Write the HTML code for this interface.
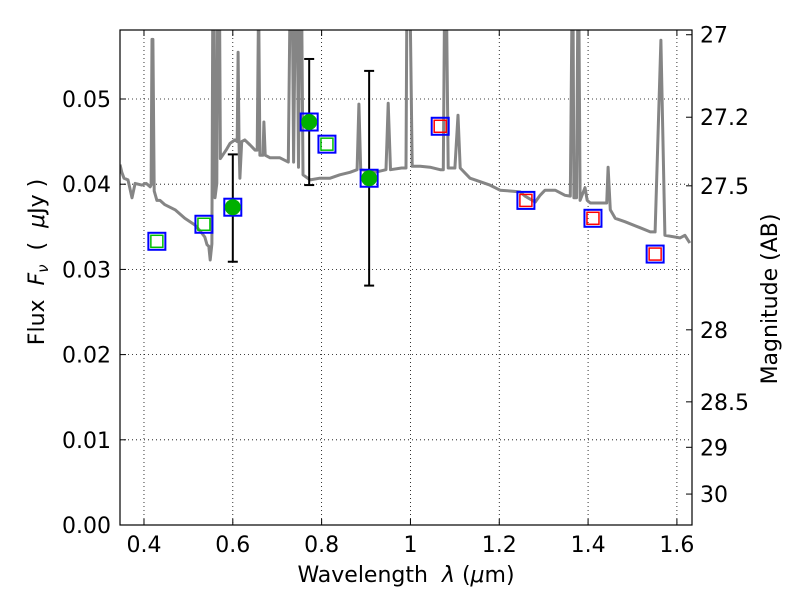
<!DOCTYPE html>
<html><head><meta charset="utf-8"><style>
html,body{margin:0;padding:0;background:#fff;}
svg{display:block;font-family:"DejaVu Sans","Liberation Sans",sans-serif;}
</style></head><body>
<svg id="chart" width="800" height="600" xmlns="http://www.w3.org/2000/svg"></svg>
<script>
const xTicks=[0.4,0.6,0.8,1.0,1.2,1.4,1.6];
const xTickLabels=["0.4","0.6","0.8","1","1.2","1.4","1.6"];
const yTicks=[0,0.01,0.02,0.03,0.04,0.05];
const yTickLabels=["0.00","0.01","0.02","0.03","0.04","0.05"];
const magTicks=[27,27.2,27.4,28,28.5,29,30];
const magTickLabels=["27","27.2","27.5","28","28.5","29","30"];
const specWave=[0.346,0.350,0.355,0.364,0.373,0.380,0.395,0.405,0.414,0.416,0.418,0.420,0.423,0.429,0.436,0.447,0.470,0.492,0.515,0.525,0.537,0.542,0.546,0.549,0.553,0.555,0.558,0.560,0.564,0.566,0.570,0.572,0.585,0.594,0.605,0.610,0.612,0.614,0.616,0.620,0.627,0.639,0.650,0.655,0.658,0.661,0.668,0.670,0.673,0.684,0.706,0.725,0.729,0.734,0.737,0.741,0.745,0.748,0.751,0.755,0.758,0.774,0.796,0.819,0.841,0.864,0.880,0.884,0.888,0.920,0.945,0.950,0.955,0.980,0.990,0.992,0.999,1.004,1.022,1.044,1.067,1.074,1.077,1.081,1.085,1.100,1.107,1.112,1.134,1.157,1.179,1.202,1.224,1.247,1.258,1.281,1.292,1.303,1.326,1.348,1.360,1.364,1.366,1.368,1.374,1.377,1.379,1.382,1.393,1.398,1.405,1.427,1.442,1.445,1.450,1.461,1.483,1.517,1.540,1.551,1.564,1.573,1.607,1.618,1.629];
const specFlux=[0.0423,0.0414,0.0407,0.0405,0.0384,0.0401,0.0399,0.0401,0.0397,0.0399,0.0570,0.0570,0.0392,0.0381,0.0381,0.0376,0.0370,0.0360,0.0352,0.0346,0.0338,0.0329,0.0327,0.0311,0.0330,0.062,0.062,0.0384,0.0401,0.062,0.062,0.0430,0.0440,0.0448,0.0452,0.0450,0.0555,0.0450,0.0407,0.0450,0.0452,0.0446,0.0440,0.0440,0.062,0.0434,0.0434,0.0473,0.0434,0.0431,0.0431,0.0426,0.062,0.062,0.0426,0.062,0.062,0.0420,0.062,0.062,0.0411,0.0405,0.0407,0.0407,0.0411,0.0414,0.0417,0.0494,0.0417,0.0414,0.0417,0.0495,0.0417,0.0419,0.0419,0.062,0.062,0.0421,0.0421,0.0420,0.0417,0.0417,0.062,0.062,0.0419,0.0419,0.0481,0.0419,0.0407,0.0403,0.0399,0.0393,0.0392,0.0391,0.0386,0.0379,0.0387,0.0393,0.0393,0.0387,0.0386,0.062,0.062,0.0384,0.0384,0.062,0.062,0.0381,0.0396,0.0381,0.0378,0.0378,0.0378,0.0420,0.0370,0.0360,0.0356,0.0349,0.0344,0.0344,0.0569,0.0340,0.0337,0.0340,0.0331];
const greenSqWave=[0.429,0.535,0.812];
const greenSqFlux=[0.0333,0.0353,0.0447];
const dotWave=[0.600,0.772,0.907];
const dotFlux=[0.0373,0.0473,0.0407];
const dotErrLo=[0.0309,0.0399,0.0281];
const dotErrHi=[0.0435,0.0547,0.0533];
const redSqWave=[1.067,1.260,1.411,1.551];
const redSqFlux=[0.0468,0.0381,0.0360,0.0318];

const L=120,R=692,T=30,B=525,XMIN=0.346,XMAX=1.634,YMIN=0,YMAX=0.0581;
const sx=v=>L+(v-XMIN)/(XMAX-XMIN)*(R-L);
const sy=v=>B-(v-YMIN)/(YMAX-YMIN)*(B-T);
const magToFlux=m=>Math.pow(10,(23.9-m)/2.5);
const svg=document.getElementById('chart');
const NS='http://www.w3.org/2000/svg';
function mk(tag,attrs,parent){const e=document.createElementNS(NS,tag);for(const k in attrs)e.setAttribute(k,attrs[k]);(parent||svg).appendChild(e);return e;}

const defs=mk('defs',{});const cp=mk('clipPath',{id:'clip'},defs);mk('rect',{x:L,y:T,width:R-L,height:B-T},cp);
const FS=22;
xTicks.forEach((v,i)=>{
  const g=mk('line',{x1:sx(v),x2:sx(v),y1:T,y2:B,stroke:'#000','stroke-width':0.8,'stroke-dasharray':'1,3'});
  
  
  mk('line',{x1:sx(v),x2:sx(v),y1:B,y2:B-6,stroke:'#000'});
  mk('line',{x1:sx(v),x2:sx(v),y1:T,y2:T+6,stroke:'#000'});
  const t=mk('text',{x:sx(v),y:B+27,'text-anchor':'middle','font-size':FS});
  t.textContent=xTickLabels[i];
  
  
});
yTicks.forEach((v,i)=>{
  const g=mk('line',{x1:L,x2:R,y1:sy(v),y2:sy(v),stroke:'#000','stroke-width':0.8,'stroke-dasharray':'1,3'});
  
  
  mk('line',{x1:L,x2:L+6,y1:sy(v),y2:sy(v),stroke:'#000'});
  const t=mk('text',{x:L-9,y:sy(v)+8,'text-anchor':'end','font-size':FS});
  t.textContent=yTickLabels[i];
  
  
});
magTicks.forEach((m,i)=>{
  const y=sy(magToFlux(m));
  mk('line',{x1:R,x2:R-6,y1:y,y2:y,stroke:'#000'});
  const t=mk('text',{x:R+8,y:y+8,'text-anchor':'start','font-size':FS});
  t.textContent=magTickLabels[i];
  
  
});

const pts=specWave.map((w,i)=>sx(w).toFixed(1)+','+sy(specFlux[i]).toFixed(1)).join(' ');
const sp=mk('polyline',{points:pts,fill:'none',stroke:'#858585','stroke-width':3,'stroke-linejoin':'round','clip-path':'url(#clip)'});



dotWave.forEach((w,i)=>{
  const x=sx(w);
  const eb=mk('g',{stroke:'#000','stroke-width':2});
  
  
  mk('line',{x1:x,x2:x,y1:sy(dotErrLo[i]),y2:sy(dotErrHi[i])},eb);
  mk('line',{x1:x-5,x2:x+5,y1:sy(dotErrLo[i]),y2:sy(dotErrLo[i])},eb);
  mk('line',{x1:x-5,x2:x+5,y1:sy(dotErrHi[i]),y2:sy(dotErrHi[i])},eb);
});
function box(x,y,inner,name){
  const g=mk('g',{});
  
  
  mk('rect',{x:x-8.5,y:y-8.5,width:17,height:17,fill:'none',stroke:'#0000ff','stroke-width':2},g);
  if(inner) mk('rect',{x:x-6,y:y-6,width:12,height:12,fill:'none',stroke:inner,'stroke-width':1.5},g);
}
greenSqWave.forEach((w,i)=>box(sx(w),sy(greenSqFlux[i]),'#00c000','green-model-point'));
redSqWave.forEach((w,i)=>box(sx(w),sy(redSqFlux[i]),'#ff0000','red-model-point'));
dotWave.forEach((w,i)=>{
  box(sx(w),sy(dotFlux[i]),null,'model-box');
  const c=mk('circle',{cx:sx(w),cy:sy(dotFlux[i]),r:8,fill:'#00b000'});
  
  
});

const fr=mk('rect',{x:L,y:T,width:R-L,height:B-T,fill:'none',stroke:'#000','stroke-width':1.2});



const xl=mk('text',{x:406,y:582,'text-anchor':'middle','font-size':FS,'xml:space':'preserve'});
xl.setAttribute('style','white-space:pre');
xl.innerHTML='Wavelength  <tspan font-style="italic">λ</tspan> (<tspan font-style="italic">μ</tspan>m)';


const yl=mk('text',{x:0,y:0,'text-anchor':'middle','font-size':FS,transform:'translate(44,262) rotate(-90)'});
yl.setAttribute('style','white-space:pre');
yl.innerHTML='Flux  <tspan font-style="italic">F</tspan><tspan font-style="italic" font-size="15" dy="4">ν</tspan><tspan dy="-4">  (  </tspan><tspan font-style="italic">μ</tspan>Jy )';


const rl=mk('text',{x:0,y:0,'text-anchor':'middle','font-size':FS,transform:'translate(777,299) rotate(-90)'});
rl.textContent='Magnitude (AB)';


</script>
</body></html>
